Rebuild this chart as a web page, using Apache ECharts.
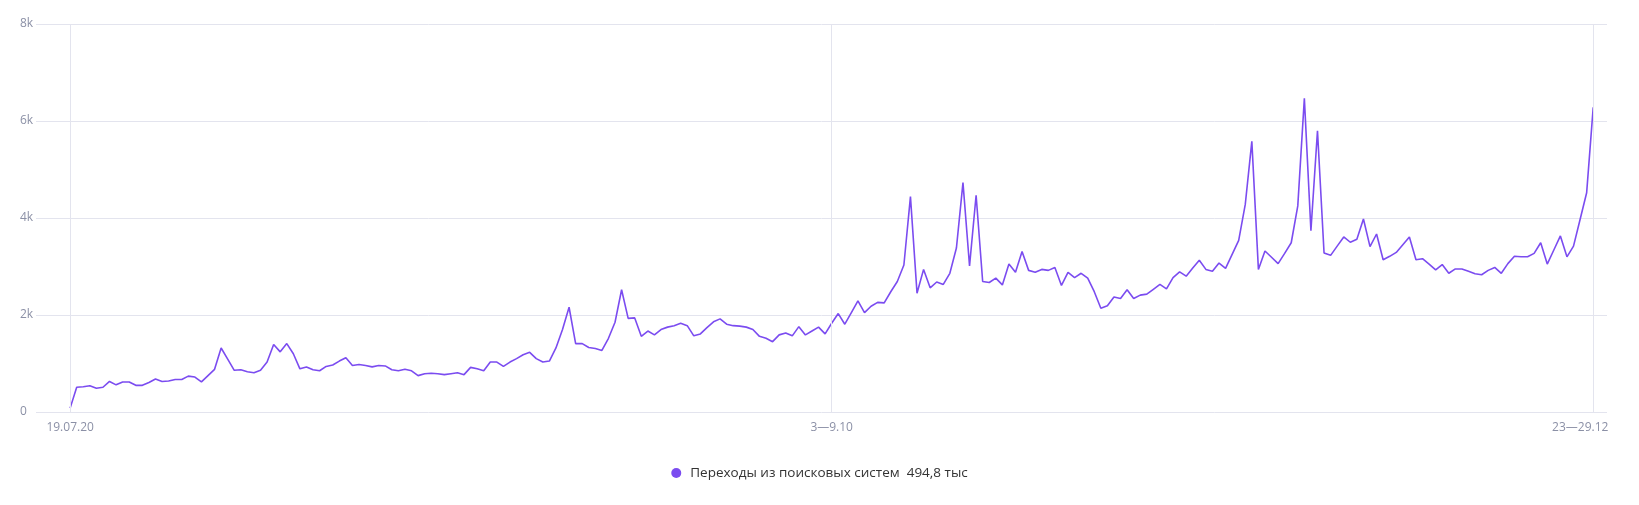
<!DOCTYPE html>
<html>
<head>
<meta charset="utf-8">
<script src="https://cdn.jsdelivr.net/npm/echarts@6/dist/echarts.min.js"></script>
<style>
    * { margin: 0; padding: 0; }
    #chart { width: 1639px; height: 505px; }
</style>
</head>
<body>
<div id="chart"></div>
<script>
    // данные
    var seriesName = 'Переходы из поисковых систем';
    var totalLabel = '494,8 тыс';
    var xTickIndex = [0, 116, 232];
    var xTickLabels = ['19.07.20', '3—9.10', '23—29.12'];
    var yTicks = [0, 2000, 4000, 6000, 8000];
    var visits = [
        80, 510, 520, 540, 490, 510, 630, 560, 620, 620,
        550, 550, 610, 680, 630, 640, 670, 670, 740, 720,
        620, 750, 880, 1320, 1090, 860, 870, 830, 810, 860,
        1030, 1390, 1240, 1410, 1200, 890, 930, 870, 850, 940,
        970, 1050, 1120, 960, 980, 960, 930, 960, 950, 870,
        850, 880, 850, 750, 790, 800, 790, 770, 790, 810,
        770, 920, 890, 850, 1030, 1030, 940, 1030, 1100, 1180,
        1230, 1100, 1030, 1050, 1320, 1700, 2160, 1410, 1410, 1330,
        1310, 1270, 1520, 1850, 2520, 1930, 1940, 1560, 1670, 1590,
        1700, 1750, 1780, 1830, 1780, 1570, 1610, 1740, 1860, 1920,
        1810, 1780, 1770, 1750, 1700, 1560, 1520, 1450, 1590, 1630,
        1570, 1760, 1590, 1670, 1750, 1610, 1830, 2030, 1810, 2050,
        2290, 2050, 2180, 2260, 2250, 2480, 2690, 3030, 4440, 2450,
        2940, 2560, 2680, 2630, 2860, 3380, 4730, 3010, 4470, 2690,
        2670, 2760, 2620, 3050, 2880, 3310, 2920, 2880, 2940, 2920,
        2980, 2610, 2880, 2770, 2860, 2760, 2480, 2140, 2190, 2370,
        2340, 2520, 2340, 2410, 2430, 2530, 2630, 2540, 2770, 2890,
        2800, 2970, 3130, 2940, 2900, 3070, 2960, 3250, 3540, 4280,
        5580, 2940, 3320, 3190, 3060, 3270, 3490, 4250, 6470, 3740,
        5800, 3280, 3230, 3420, 3610, 3500, 3560, 3980, 3410, 3670,
        3140, 3210, 3290, 3450, 3610, 3140, 3160, 3050, 2930, 3040,
        2860, 2950, 2950, 2900, 2850, 2830, 2920, 2980, 2860, 3060,
        3210, 3200, 3200, 3270, 3490, 3050, 3340, 3630, 3200, 3420,
        3970, 4520, 6280
    ];

    var lineData = visits.map(function (v, i) { return [i, v]; });
    var gridColor = '#e3e4ee';
    var labelColor = '#8b90a6';
    var font = '"Open Sans", "Noto Sans", sans-serif';

    var option = {
        animation: false,
        grid: {
            left: 36,
            right: 32,
            top: 24,
            bottom: 93
        },
        legend: {
            data: [seriesName],
            bottom: 20,
            left: 'center',
            icon: 'circle',
            itemWidth: 10,
            itemHeight: 10,
            formatter: function (name) {
                return name + '  ' + totalLabel;
            },
            textStyle: {
                color: '#333',
                fontSize: 13.5,
                fontFamily: font,
                padding: [0, 0, 0, 4]
            }
        },
        xAxis: {
            type: 'value',
            min: -5.2,
            max: 234.1,
            axisLine: { show: false },
            axisTick: { show: false },
            splitLine: { show: false },
            axisLabel: {
                customValues: xTickIndex,
                color: labelColor,
                fontSize: 12,
                fontFamily: font,
                margin: 10,
                formatter: function (v) {
                    var k = xTickIndex.indexOf(v);
                    if (k === xTickLabels.length - 1) {
                        return '{last|' + xTickLabels[k] + '}';
                    }
                    return k >= 0 ? xTickLabels[k] : '';
                },
                rich: {
                    last: {
                        color: labelColor,
                        fontSize: 12,
                        fontFamily: font,
                        padding: [0, 26, 0, 0]
                    }
                }
            }
        },
        yAxis: {
            type: 'value',
            min: yTicks[0],
            max: yTicks[yTicks.length - 1],
            interval: 2000,
            axisLine: { show: false },
            axisTick: { show: false },
            splitLine: { lineStyle: { color: gridColor, width: 1 } },
            axisLabel: {
                align: 'left',
                margin: 16,
                color: labelColor,
                fontSize: 12,
                fontFamily: font,
                formatter: function (v) {
                    return v === 0 ? '0' : (v / 1000) + 'k';
                }
            }
        },
        series: [
            {
                name: seriesName,
                type: 'line',
                data: lineData,
                showSymbol: false,
                color: '#7b4cf0',
                lineStyle: { width: 1.6, color: '#7b4cf0' },
                markLine: {
                    silent: true,
                    symbol: ['none', 'none'],
                    label: { show: false },
                    lineStyle: { color: gridColor, type: 'solid', width: 1 },
                    data: xTickIndex.map(function (i) { return { xAxis: i }; })
                },
                z: 3
            }
        ]
    };

    var myChart = echarts.init(document.getElementById('chart'));
    myChart.setOption(option);
</script>
</body>
</html>
